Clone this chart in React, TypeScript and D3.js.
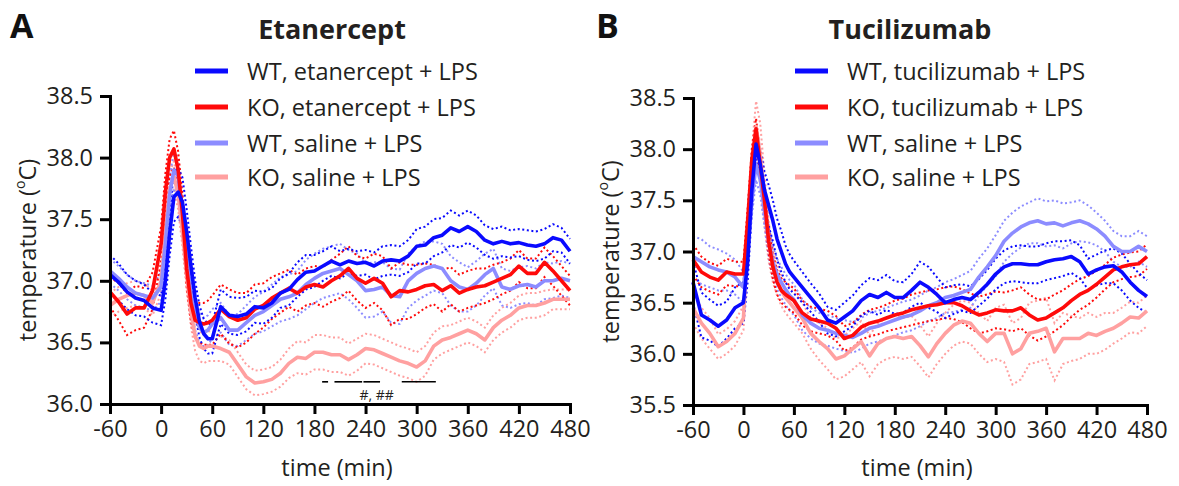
import * as d3 from 'd3';
import * as React from 'react';

const FONT = "'Open Sans', 'DejaVu Sans', sans-serif";
const INK = '#231f20';

// time grid (min), finer around the LPS spike
const times = [
  -60, -50, -40, -30, -20, -10, 0,
  5, 10, 15, 20, 25, 30, 35, 40, 45, 50, 55, 60,
  70, 80, 90, 100, 110, 120, 130, 140, 150, 160,
  170, 180, 190, 200, 210, 220, 230, 240, 250, 260,
  270, 280, 290, 300, 310, 320, 330, 340, 350, 360,
  370, 380, 390, 400, 410, 420, 430, 440, 450, 460,
  470, 480,
];
const xTicks = [-60, 0, 60, 120, 180, 240, 300, 360, 420, 480];
const yTicksA = [36.0, 36.5, 37.0, 37.5, 38.0, 38.5];
const yTicksB = [35.5, 36.0, 36.5, 37.0, 37.5, 38.0, 38.5];

// ---- panel A : etanercept ----
const wtEtanMean = [
  37.05, 36.99, 36.91, 36.86, 36.84, 36.78, 36.76,
  37.0, 37.38, 37.68, 37.72, 37.64, 37.4, 37.12, 36.86, 36.67, 36.57, 36.53, 36.53,
  36.79, 36.72, 36.71, 36.73, 36.79, 36.78, 36.82, 36.9, 36.93, 37.01,
  37.07, 37.08, 37.12, 37.16, 37.13, 37.16, 37.14, 37.15, 37.12, 37.16,
  37.17, 37.16, 37.2, 37.28, 37.29, 37.35, 37.37, 37.43, 37.4, 37.44,
  37.4, 37.33, 37.3, 37.32, 37.3, 37.31, 37.29, 37.28, 37.3, 37.35,
  37.33, 37.24,
];
const wtEtanSem = [
  0.16, 0.15, 0.14, 0.14, 0.13, 0.12, 0.12,
  0.15, 0.18, 0.2, 0.2, 0.2, 0.18, 0.16, 0.14, 0.13, 0.12, 0.12, 0.12,
  0.14, 0.15, 0.15, 0.14, 0.13, 0.13, 0.12, 0.12, 0.13, 0.14,
  0.14, 0.13, 0.12, 0.12, 0.11, 0.1, 0.1, 0.1, 0.11, 0.12,
  0.12, 0.12, 0.13, 0.14, 0.15, 0.15, 0.14, 0.14, 0.13, 0.13,
  0.13, 0.12, 0.12, 0.12, 0.11, 0.11, 0.12, 0.12, 0.12, 0.11,
  0.1, 0.1,
];
const koEtanMean = [
  36.91, 36.83, 36.73, 36.78, 36.78, 36.92, 37.3,
  37.72, 38.0, 38.07, 37.9, 37.55, 37.1, 36.82, 36.68, 36.66, 36.65, 36.66, 36.68,
  36.77, 36.71, 36.68, 36.7, 36.77, 36.8, 36.86, 36.9, 36.94, 36.9,
  36.95, 36.97, 36.95, 37.0, 37.04, 37.1, 37.02, 36.98, 37.02, 36.98,
  36.87, 36.92, 36.91, 36.93, 36.96, 36.97, 36.92, 36.96, 36.9, 36.93,
  36.95, 36.96, 36.99, 37.02, 37.05, 37.12, 37.06, 37.06, 37.15, 37.08,
  37.0, 36.92,
];
const koEtanSem = [
  0.12, 0.15, 0.17, 0.18, 0.16, 0.15, 0.14,
  0.15, 0.15, 0.15, 0.15, 0.15, 0.15, 0.15, 0.15, 0.16, 0.17, 0.18, 0.2,
  0.2, 0.22, 0.22, 0.2, 0.2, 0.18, 0.17, 0.16, 0.15, 0.15,
  0.15, 0.15, 0.16, 0.17, 0.18, 0.18, 0.18, 0.2, 0.2, 0.22,
  0.23, 0.23, 0.22, 0.2, 0.18, 0.16, 0.17, 0.15, 0.15, 0.15,
  0.15, 0.14, 0.14, 0.13, 0.13, 0.13, 0.12, 0.12, 0.12, 0.12,
  0.12, 0.12,
];
const wtSalAMean = [
  37.08, 37.02, 36.95, 36.9, 36.88, 36.86, 36.95,
  37.3, 37.7, 37.9, 37.85, 37.55, 37.2, 36.9, 36.72, 36.62, 36.58, 36.6, 36.65,
  36.7, 36.6, 36.6, 36.66, 36.72, 36.75, 36.8, 36.85, 36.87, 36.9,
  36.97, 37.02, 37.06, 37.08, 37.1, 37.05, 37.0, 36.92, 36.93, 36.95,
  36.88, 36.87, 37.0, 37.06, 37.1, 37.12, 37.1, 37.0, 36.95, 36.93,
  36.98, 37.05, 37.1, 36.95, 36.93, 36.96, 36.97, 36.95, 37.0, 37.0,
  37.02, 37.0,
];
const wtSalASem = [
  0.1, 0.1, 0.1, 0.1, 0.1, 0.1, 0.12,
  0.12, 0.14, 0.15, 0.15, 0.15, 0.14, 0.12, 0.12, 0.12, 0.12, 0.12, 0.12,
  0.12, 0.12, 0.13, 0.14, 0.15, 0.16, 0.17, 0.18, 0.18, 0.18,
  0.2, 0.2, 0.2, 0.2, 0.2, 0.2, 0.22, 0.22, 0.22, 0.2,
  0.22, 0.22, 0.22, 0.22, 0.22, 0.2, 0.2, 0.2, 0.2, 0.18,
  0.18, 0.17, 0.16, 0.15, 0.15, 0.15, 0.15, 0.15, 0.15, 0.14,
  0.14, 0.14,
];
const koSalAMean = [
  36.8, 36.85, 36.88, 36.9, 36.88, 36.82, 37.0,
  37.4, 37.75, 37.85, 37.7, 37.4, 37.05, 36.75, 36.55, 36.47, 36.45, 36.47, 36.47,
  36.45, 36.42, 36.32, 36.22, 36.17, 36.18, 36.2, 36.25, 36.33, 36.38,
  36.37, 36.42, 36.42, 36.4, 36.4, 36.36, 36.4, 36.45, 36.44, 36.41,
  36.38, 36.35, 36.33, 36.3, 36.35, 36.47, 36.52, 36.54, 36.57, 36.6,
  36.57, 36.52, 36.62, 36.68, 36.72, 36.78, 36.8, 36.8, 36.82, 36.85,
  36.85, 36.85,
];
const koSalASem = [
  0.1, 0.1, 0.1, 0.1, 0.1, 0.1, 0.1,
  0.12, 0.12, 0.12, 0.12, 0.12, 0.12, 0.12, 0.12, 0.12, 0.12, 0.12, 0.12,
  0.1, 0.1, 0.1, 0.1, 0.1, 0.1, 0.1, 0.11, 0.12, 0.13,
  0.13, 0.14, 0.14, 0.14, 0.14, 0.13, 0.13, 0.12, 0.12, 0.12,
  0.12, 0.12, 0.12, 0.12, 0.12, 0.11, 0.11, 0.1, 0.1, 0.1,
  0.1, 0.1, 0.1, 0.1, 0.1, 0.1, 0.1, 0.1, 0.1, 0.08,
  0.08, 0.08,
];
// significance bars under panel A (start, end in min)
const sigBars = [[189, 196], [203.5, 236], [237.5, 257], [282.5, 322.5]];

// ---- panel B : tucilizumab ----
const wtTucMean = [
  36.7, 36.38, 36.33, 36.27, 36.33, 36.45, 36.5,
  36.9, 37.6, 38.05, 37.85, 37.6, 37.45, 37.3, 37.12, 37.0, 36.88, 36.8, 36.75,
  36.65, 36.55, 36.45, 36.33, 36.3, 36.36, 36.42, 36.52, 36.58, 36.55,
  36.6, 36.55, 36.55, 36.62, 36.7, 36.65, 36.58, 36.5, 36.53, 36.55,
  36.53, 36.6, 36.68, 36.78, 36.85, 36.88, 36.88, 36.87, 36.87, 36.9,
  36.92, 36.93, 36.95, 36.9, 36.78, 36.82, 36.85, 36.86, 36.8, 36.7,
  36.62, 36.56,
];
const wtTucSem = [
  0.2, 0.22, 0.2, 0.2, 0.18, 0.2, 0.2,
  0.2, 0.2, 0.15, 0.15, 0.18, 0.2, 0.2, 0.2, 0.2, 0.18, 0.17, 0.16,
  0.15, 0.14, 0.14, 0.13, 0.13, 0.14, 0.15, 0.15, 0.16, 0.17,
  0.17, 0.16, 0.15, 0.16, 0.2, 0.2, 0.17, 0.15, 0.14, 0.13,
  0.13, 0.13, 0.14, 0.15, 0.16, 0.17, 0.18, 0.18, 0.18, 0.18,
  0.18, 0.17, 0.16, 0.16, 0.15, 0.15, 0.16, 0.17, 0.18, 0.18,
  0.17, 0.16,
];
const koTucMean = [
  36.92, 36.8, 36.75, 36.72, 36.8, 36.78, 36.78,
  37.3, 37.9, 38.2, 37.85, 37.5, 37.1, 36.85, 36.7, 36.62, 36.58, 36.55, 36.52,
  36.4, 36.34, 36.32, 36.3, 36.25, 36.15, 36.18, 36.26, 36.3, 36.32,
  36.35, 36.38, 36.4, 36.43, 36.45, 36.47, 36.48, 36.5, 36.5, 36.47,
  36.42, 36.38, 36.4, 36.43, 36.42, 36.42, 36.45, 36.38, 36.33, 36.35,
  36.4, 36.45, 36.52, 36.58, 36.62, 36.68, 36.75, 36.82, 36.85, 36.87,
  36.88, 36.95,
];
const koTucSem = [
  0.15, 0.15, 0.14, 0.14, 0.13, 0.12, 0.12,
  0.12, 0.1, 0.1, 0.1, 0.12, 0.12, 0.12, 0.12, 0.12, 0.12, 0.12, 0.12,
  0.12, 0.12, 0.12, 0.12, 0.12, 0.12, 0.12, 0.12, 0.13, 0.13,
  0.13, 0.14, 0.14, 0.15, 0.15, 0.15, 0.15, 0.15, 0.16, 0.16,
  0.17, 0.18, 0.18, 0.18, 0.18, 0.2, 0.2, 0.2, 0.2, 0.18,
  0.18, 0.17, 0.16, 0.15, 0.14, 0.13, 0.12, 0.12, 0.12, 0.12,
  0.12, 0.12,
];
const wtSalBMean = [
  36.95, 36.9, 36.85, 36.82, 36.8, 36.75, 36.65,
  37.0, 37.5, 37.85, 37.7, 37.4, 37.1, 36.9, 36.78, 36.7, 36.63, 36.57, 36.53,
  36.38, 36.3, 36.25, 36.23, 36.2, 36.18, 36.16, 36.2, 36.25, 36.27,
  36.3, 36.33, 36.36, 36.38, 36.42, 36.47, 36.5, 36.55, 36.57, 36.6,
  36.63, 36.75, 36.85, 36.96, 37.1, 37.18, 37.24, 37.28, 37.3, 37.27,
  37.28, 37.25, 37.28, 37.3, 37.27, 37.22, 37.15, 37.05, 37.0, 37.0,
  37.05, 37.0,
];
const wtSalBSem = [
  0.2, 0.22, 0.2, 0.2, 0.18, 0.17, 0.15,
  0.15, 0.15, 0.15, 0.15, 0.15, 0.15, 0.15, 0.15, 0.15, 0.15, 0.15, 0.15,
  0.15, 0.15, 0.15, 0.15, 0.15, 0.15, 0.15, 0.15, 0.15, 0.15,
  0.15, 0.15, 0.15, 0.15, 0.15, 0.15, 0.15, 0.15, 0.16, 0.17,
  0.18, 0.18, 0.18, 0.2, 0.2, 0.2, 0.2, 0.2, 0.22, 0.22,
  0.22, 0.22, 0.2, 0.2, 0.18, 0.16, 0.15, 0.15, 0.15, 0.15,
  0.15, 0.15,
];
const koSalBMean = [
  36.45, 36.3, 36.2, 36.07, 36.12, 36.2, 36.35,
  37.1, 37.8, 38.22, 37.95, 37.5, 37.1, 36.85, 36.72, 36.62, 36.55, 36.5, 36.45,
  36.35, 36.2, 36.12, 36.05, 35.95, 35.98, 36.05, 36.12, 35.98, 36.1,
  36.15, 36.17, 36.15, 36.17, 36.08, 35.97, 36.1, 36.2, 36.28, 36.32,
  36.3, 36.2, 36.12, 36.2, 36.2, 36.0, 36.05, 36.2, 36.22, 36.25,
  36.02, 36.15, 36.15, 36.15, 36.2, 36.18, 36.22, 36.25, 36.3, 36.36,
  36.35, 36.42,
];
const koSalBSem = [
  0.15, 0.15, 0.15, 0.12, 0.12, 0.12, 0.12,
  0.15, 0.2, 0.25, 0.3, 0.25, 0.2, 0.15, 0.15, 0.15, 0.15, 0.15, 0.15,
  0.15, 0.15, 0.18, 0.2, 0.2, 0.2, 0.2, 0.2, 0.2, 0.2,
  0.2, 0.2, 0.2, 0.2, 0.2, 0.2, 0.2, 0.2, 0.2, 0.2,
  0.2, 0.2, 0.2, 0.25, 0.28, 0.3, 0.3, 0.3, 0.3, 0.3,
  0.28, 0.25, 0.22, 0.2, 0.2, 0.18, 0.18, 0.15, 0.15, 0.15,
  0.15, 0.15,
];

const BLUE = '#0a0aff';
const RED = '#ff0a0a';
const LIGHT_BLUE = '#8c8cff';
const PINK = '#ffa0a0';

interface Series {
  label: string;
  color: string;
  mean: number[];
  sem: number[];
}

interface PanelProps {
  letter: string;
  letterX: number;
  title: string;
  titleX: number;
  legendX: number;
  xRange: [number, number];
  yDomain: [number, number];
  yRange: [number, number];
  yTicks: number[];
  series: Series[];
  bars?: number[][];
}

const legendRows = [71, 107, 143, 177];

/**
 * One temperature panel with its legend and axes
 */
const Panel = (p: PanelProps) => {
  const xAxisRef = React.useRef<SVGGElement>(null);
  const yAxisRef = React.useRef<SVGGElement>(null);

  const x = d3.scaleLinear().domain([-60, 480]).range(p.xRange);
  const y = d3.scaleLinear().domain(p.yDomain).range(p.yRange);

  React.useEffect(() => {
    if (!xAxisRef.current || !yAxisRef.current) return;
    const gx = d3.select(xAxisRef.current);
    gx.call(d3.axisBottom(x)
      .tickValues(xTicks)
      .tickSize(10)
      .tickSizeOuter(0)
      .tickPadding(6)
      .tickFormat(d => String(d)));
    const gy = d3.select(yAxisRef.current);
    gy.call(d3.axisLeft(y)
      .tickValues(p.yTicks)
      .tickSize(10)
      .tickSizeOuter(0)
      .tickPadding(7)
      .tickFormat(d3.format('.1f')));
    [gx, gy].forEach(g => {
      g.attr('font-family', null).attr('font-size', null);
      g.selectAll('path, line').attr('stroke', '#000').attr('stroke-width', 3);
      g.select('.domain').attr('stroke-linecap', 'square');
      g.selectAll('text')
        .attr('fill', INK)
        .style('font-family', FONT)
        .style('font-size', '23.5px');
    });
  });

  const line = d3.line<number>()
    .x((_, i) => x(times[i]))
    .y(d => y(d));

  const dotted = { strokeWidth: 2, strokeDasharray: '2 2.6', fill: 'none' };
  const drawOrder = [3, 2, 1, 0];
  const x0 = p.xRange[0];
  const yMid = (p.yRange[0] + p.yRange[1]) / 2;

  return (
    <g>
      <text x={p.letterX} y={38} fontSize={34} fontWeight={700} fill="#111" style={{ fontFamily: FONT }}>{p.letter}</text>
      <text x={p.titleX} y={39} fontSize={27} fontWeight={700} fill={INK} textAnchor="middle" style={{ fontFamily: FONT }}>{p.title}</text>

      {p.series.map((s, i) => (
        <g key={s.label}>
          <line x1={p.legendX} x2={p.legendX + 33} y1={legendRows[i]} y2={legendRows[i]} stroke={s.color} strokeWidth={5} />
          <text x={p.legendX + 52} y={legendRows[i] + 8.5} fontSize={23.5} fill={INK} style={{ fontFamily: FONT }}>{s.label}</text>
        </g>
      ))}

      {/* SEM bands as dotted lines */}
      {drawOrder.map(i => {
        const s = p.series[i];
        const upper = s.mean.map((m, k) => m + s.sem[k]);
        const lower = s.mean.map((m, k) => m - s.sem[k]);
        return (
          <g key={'sem' + i}>
            <path d={line(upper) || ''} stroke={s.color} {...dotted} />
            <path d={line(lower) || ''} stroke={s.color} {...dotted} />
          </g>
        );
      })}
      {drawOrder.map(i => {
        const s = p.series[i];
        return <path key={'mean' + i} d={line(s.mean) || ''} stroke={s.color} strokeWidth={3.6} fill="none" strokeLinejoin="round" />;
      })}

      {p.bars && (
        <g>
          {p.bars.map((b, i) => (
            <line key={i} x1={x(b[0])} x2={x(b[1])} y1={y(36.18)} y2={y(36.18)} stroke="#000" strokeWidth={1.6} />
          ))}
          <text x={x(253)} y={y(36.035)} fontSize={14} textAnchor="middle" fill={INK} style={{ fontFamily: FONT }}>#, ##</text>
        </g>
      )}

      <g ref={xAxisRef} transform={`translate(0,${p.yRange[0]})`} />
      <g ref={yAxisRef} transform={`translate(${x0},0)`} />

      <text
        transform={`translate(${x0 - 83},${yMid}) rotate(-90)`}
        textAnchor="middle"
        dominantBaseline="central"
        fontSize={23.5}
        fill={INK}
        style={{ fontFamily: FONT }}
      >
        temperature (<tspan fontSize={14} dy={-8}>o</tspan><tspan dy={8}>C)</tspan>
      </text>
      <text x={(p.xRange[0] + p.xRange[1]) / 2 - 3} y={476} fontSize={23.5} textAnchor="middle" fill={INK} style={{ fontFamily: FONT }}>time (min)</text>
    </g>
  );
};

export default function App() {
  const seriesA: Series[] = [
    { label: 'WT, etanercept + LPS', color: BLUE, mean: wtEtanMean, sem: wtEtanSem },
    { label: 'KO, etanercept + LPS', color: RED, mean: koEtanMean, sem: koEtanSem },
    { label: 'WT, saline + LPS', color: LIGHT_BLUE, mean: wtSalAMean, sem: wtSalASem },
    { label: 'KO, saline + LPS', color: PINK, mean: koSalAMean, sem: koSalASem },
  ];
  const seriesB: Series[] = [
    { label: 'WT, tucilizumab + LPS', color: BLUE, mean: wtTucMean, sem: wtTucSem },
    { label: 'KO, tucilizumab + LPS', color: RED, mean: koTucMean, sem: koTucSem },
    { label: 'WT, saline + LPS', color: LIGHT_BLUE, mean: wtSalBMean, sem: wtSalBSem },
    { label: 'KO, saline + LPS', color: PINK, mean: koSalBMean, sem: koSalBSem },
  ];

  return (
    <svg
      width={1179}
      height={486}
      style={{ position: 'absolute', left: 0, top: 0, background: '#fff' }}
    >
      <Panel
        letter="A" letterX={10}
        title="Etanercept" titleX={332}
        legendX={195}
        xRange={[110, 570]}
        yDomain={[36.0, 38.5]}
        yRange={[404, 96]}
        yTicks={yTicksA}
        series={seriesA}
        bars={sigBars}
      />
      <Panel
        letter="B" letterX={596}
        title="Tucilizumab" titleX={910}
        legendX={795}
        xRange={[693, 1147]}
        yDomain={[35.5, 38.5]}
        yRange={[405, 98]}
        yTicks={yTicksB}
        series={seriesB}
      />
    </svg>
  );
}
